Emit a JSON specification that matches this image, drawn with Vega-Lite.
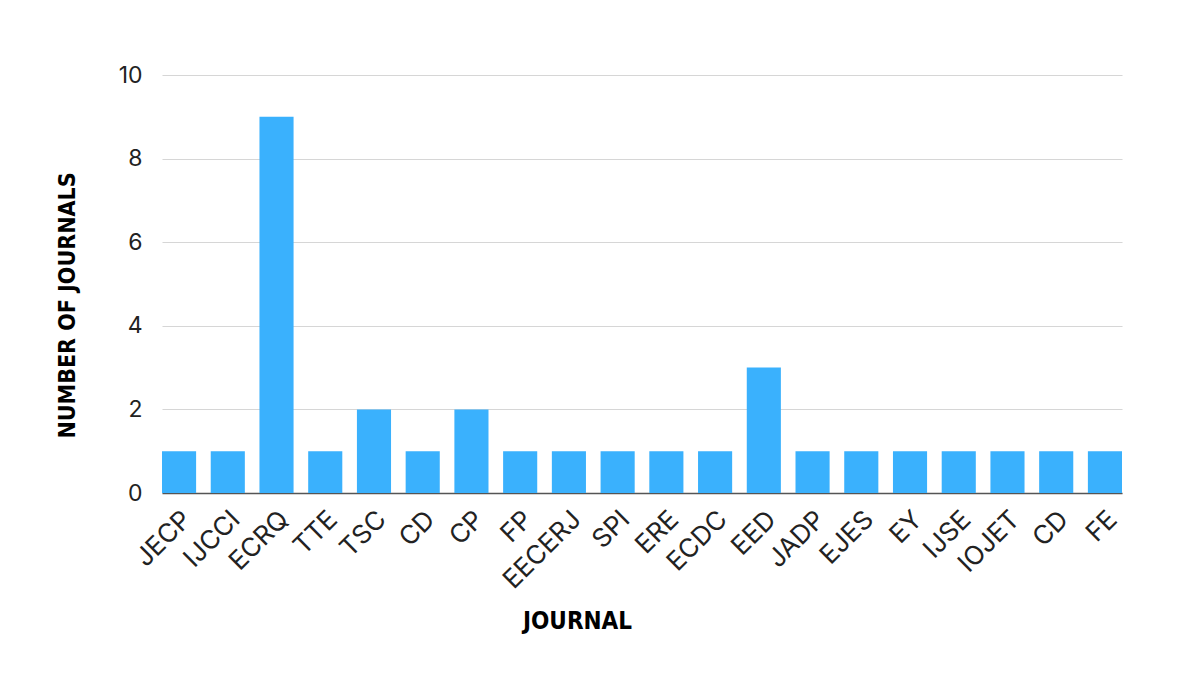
{
  "$schema": "https://vega.github.io/schema/vega-lite/v6.json",
  "width": 960,
  "height": 418,
  "autosize": {"type": "none"},
  "padding": {"left": 162, "top": 75, "right": 64, "bottom": 180},
  "background": "white",
  "config": {"view": {"stroke": null}},
  "data": {
    "values": [
      {"journal": "JECP", "count": 1},
      {"journal": "IJCCI", "count": 1},
      {"journal": "ECRQ", "count": 9},
      {"journal": "TTE", "count": 1},
      {"journal": "TSC", "count": 2},
      {"journal": "CD", "count": 1},
      {"journal": "CP", "count": 2},
      {"journal": "FP", "count": 1},
      {"journal": "EECERJ", "count": 1},
      {"journal": "SPI", "count": 1},
      {"journal": "ERE", "count": 1},
      {"journal": "ECDC", "count": 1},
      {"journal": "EED", "count": 3},
      {"journal": "JADP", "count": 1},
      {"journal": "EJES", "count": 1},
      {"journal": "EY", "count": 1},
      {"journal": "IJSE", "count": 1},
      {"journal": "IOJET", "count": 1},
      {"journal": "CD#2", "count": 1},
      {"journal": "FE", "count": 1}
    ]
  },
  "mark": {"type": "bar", "color": "#3AB1FD"},
  "encoding": {
    "x": {
      "field": "journal",
      "type": "nominal",
      "sort": null,
      "scale": {"paddingInner": 0.3, "paddingOuter": 0},
      "axis": {
        "title": "JOURNAL",
        "titleFont": "DejaVu Sans Condensed",
        "titleFontWeight": "bold",
        "titleFontSize": 24,
        "titleColor": "#000000",
        "titleX": 415,
        "titleY": 128,
        "titleBaseline": "middle",
        "titleAlign": "center",
        "labelExpr": "split(datum.label, '#')[0]",
        "labelAngle": -45,
        "labelAlign": "right",
        "labelBaseline": "middle",
        "labelPadding": 22,
        "labelOffset": 8,
        "labelFont": "Inter",
        "labelFontSize": 26,
        "labelColor": "#222222",
        "ticks": false,
        "domainColor": "#555555",
        "domainWidth": 1.5,
        "grid": false
      }
    },
    "y": {
      "field": "count",
      "type": "quantitative",
      "scale": {"domain": [0, 10]},
      "axis": {
        "title": "NUMBER OF JOURNALS",
        "titleFont": "DejaVu Sans Condensed",
        "titleFontWeight": "bold",
        "titleFontSize": 23,
        "titleColor": "#000000",
        "titleX": -95,
        "titleY": 230,
        "titleBaseline": "middle",
        "titleAlign": "center",
        "titleAngle": -90,
        "values": [0, 2, 4, 6, 8, 10],
        "labelFont": "Inter",
        "labelFontSize": 23,
        "labelColor": "#222222",
        "labelPadding": 20,
        "ticks": false,
        "domain": false,
        "grid": true,
        "gridColor": "#d6d6d6",
        "gridWidth": 1.2
      }
    }
  }
}
